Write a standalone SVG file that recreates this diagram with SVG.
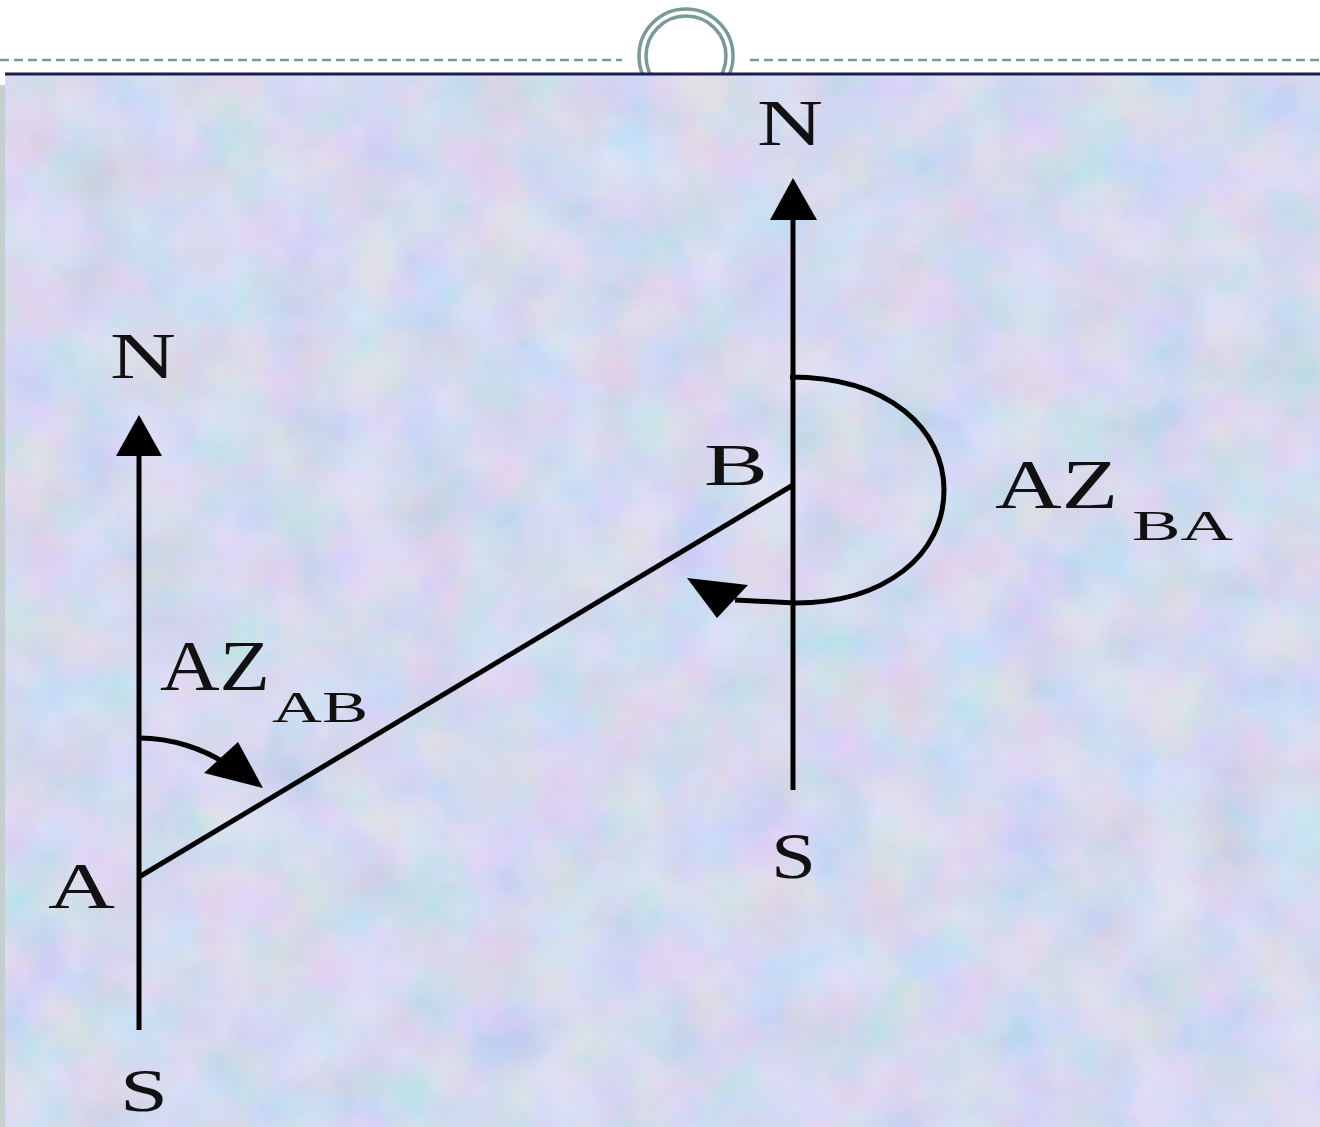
<svg xmlns="http://www.w3.org/2000/svg" width="1320" height="1127" viewBox="0 0 1320 1127">
<style>
.lbl{font-family:"Liberation Serif","Times New Roman",serif;fill:#111;}
.ln{stroke:#000;stroke-width:5;fill:none;stroke-linecap:butt;}
.deco{stroke:#7a9a96;fill:none;}
</style>
<defs>
<filter id="tex" x="0" y="0" width="100%" height="100%">
<feTurbulence type="fractalNoise" baseFrequency="0.015" numOctaves="4" seed="7" result="n"/>
<feColorMatrix in="n" type="matrix" values="1.0 0 0 0 0.3  0 0.5 0 0 0.5  0 0 0.6 0 0.55  0 0 0 0 0.45" result="c"/>
<feComposite in="c" in2="SourceGraphic" operator="in"/>
</filter>
</defs>
<rect width="1320" height="1127" fill="#ffffff"/>
<g id="header">
<line class="deco" x1="0" y1="60" x2="622" y2="60" stroke-width="2.5" stroke-dasharray="9,5"/>
<line class="deco" x1="750" y1="60" x2="1320" y2="60" stroke-width="2.5" stroke-dasharray="9,5"/>
<circle class="deco" cx="686" cy="56" r="47" stroke-width="3.5"/>
<circle class="deco" cx="686" cy="56" r="40" stroke-width="3.5"/>
</g>
<g id="panel">
<rect x="0" y="85" width="6" height="1042" fill="#c6cfd0"/>
<rect x="5" y="74" width="1315" height="1053" fill="#c6d4f0"/>
<rect x="5" y="74" width="1315" height="1053" fill="#fff" filter="url(#tex)"/>
<line x1="5" y1="74" x2="1320" y2="74" stroke="#1b1f4d" stroke-width="3"/>
</g>
<g id="connectors">
<line id="meridianA" class="ln" x1="139" y1="1030" x2="139" y2="450"/>
<polygon points="139,415 116,456 162,456" fill="#000"/>
<line id="meridianB" class="ln" x1="793" y1="790" x2="793" y2="215"/>
<polygon points="793,178 770,220 817,220" fill="#000"/>
<line id="lineAB" class="ln" x1="139" y1="877" x2="793" y2="485"/>
<path id="arcAB" class="ln" d="M139,738 C170,738 205,748 232,768"/>
<polygon points="263,788 204,773 238,742" fill="#000"/>
<path id="arcBA" class="ln" d="M790,377 C890,377 944,430 944,490 C944,555 885,603 795,603 L735,600"/>
<polygon points="687,578 748,585 717,618" fill="#000"/>
</g>
<g id="labels">
<text class="lbl" x="110" y="378" font-size="66" textLength="66" lengthAdjust="spacingAndGlyphs">N</text>
<text class="lbl" x="757" y="145" font-size="66" textLength="66" lengthAdjust="spacingAndGlyphs">N</text>
<text class="lbl" x="120" y="1111" font-size="62" textLength="48" lengthAdjust="spacingAndGlyphs">S</text>
<text class="lbl" x="771" y="878" font-size="66" textLength="45" lengthAdjust="spacingAndGlyphs">S</text>
<text class="lbl" x="48" y="908" font-size="66" textLength="67" lengthAdjust="spacingAndGlyphs">A</text>
<text class="lbl" x="704" y="485" font-size="60" textLength="64" lengthAdjust="spacingAndGlyphs">B</text>
<text class="lbl" x="160" y="690" font-size="72" textLength="110" lengthAdjust="spacingAndGlyphs">AZ</text>
<text class="lbl" x="272" y="722" font-size="44" textLength="96" lengthAdjust="spacingAndGlyphs">AB</text>
<text class="lbl" x="995" y="508" font-size="70" textLength="123" lengthAdjust="spacingAndGlyphs">AZ</text>
<text class="lbl" x="1132" y="540" font-size="42" textLength="101" lengthAdjust="spacingAndGlyphs">BA</text>
</g>
</svg>
